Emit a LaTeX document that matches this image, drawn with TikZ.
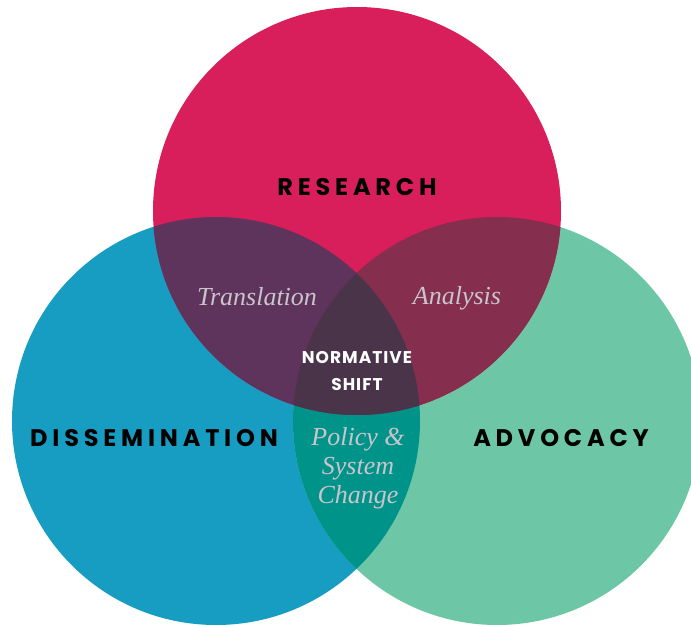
\documentclass[tikz,border=0pt]{standalone}
\usepackage{fontspec}
\newfontfamily\headfont{Poppins}
\newfontfamily\labfont{Liberation Serif}
\definecolor{cpink}{HTML}{D81E5B}
\definecolor{cblue}{HTML}{189DC2}
\definecolor{cgreen}{HTML}{6DC7A6}
\definecolor{cpb}{HTML}{5E335C}
\definecolor{cpg}{HTML}{852E4E}
\definecolor{cbg}{HTML}{00938A}
\definecolor{call}{HTML}{4A344A}
\definecolor{clab}{HTML}{C9C5CB}
\tikzset{
  head/.style={font=\headfont\bfseries\fontsize{24}{28}\selectfont\addfontfeature{LetterSpace=20}, text=black, inner sep=0pt},
  core/.style={font=\headfont\bfseries\fontsize{17}{27}\selectfont\addfontfeature{LetterSpace=6}, text=white, align=center, inner sep=0pt},
  lab/.style={font=\labfont\itshape\fontsize{26}{29}\selectfont, text=clab, align=center, inner sep=0pt}
}
\begin{document}
\begin{tikzpicture}[x=1pt,y=-1pt]
\useasboundingbox (0,0) rectangle (691,626);
\clip (0,0) rectangle (691,626);
\coordinate (R) at (357,211);
\coordinate (B) at (216,421);
\coordinate (G) at (497,421);
\def\rad{204pt}
\fill[cblue] (B) circle (\rad);
\fill[cgreen] (G) circle (\rad);
\fill[cpink] (R) circle (\rad);
\begin{scope}
  \clip (B) circle (\rad);
  \fill[cbg] (G) circle (\rad);
  \fill[cpb] (R) circle (\rad);
\end{scope}
\begin{scope}
  \clip (G) circle (\rad);
  \fill[cpg] (R) circle (\rad);
  \clip (B) circle (\rad);
  \fill[call] (R) circle (\rad);
\end{scope}
\node[head] (research) at (357,187) {RESEARCH};
\node[head] (dissem) at (154,438) {DISSEMINATION};
\node[head] (advocacy) at (561,438) {ADVOCACY};
\node[core] (normative) at (357,371) {NORMATIVE\\SHIFT};
\node[lab] (translation) at (257,297) {Translation};
\node[lab] (analysis) at (457,298) {Analysis};
\node[lab] (policy) at (358,468) {Policy \&\\System\\Change};
\end{tikzpicture}
\end{document}
